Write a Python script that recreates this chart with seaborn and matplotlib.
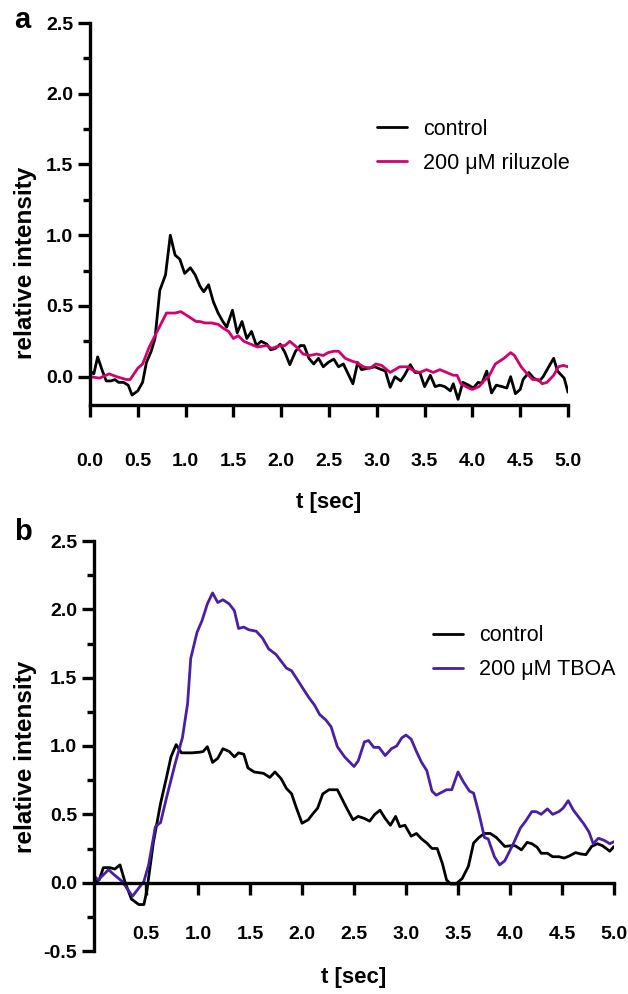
import numpy as np
import pandas as pd
import matplotlib
matplotlib.use("Agg")
import matplotlib.pyplot as plt
from matplotlib.ticker import MultipleLocator, FormatStrFormatter
import seaborn as sns

# panel a: control vs riluzole
t_ctrl_a = [0.00, 0.04, 0.08, 0.13, 0.17, 0.22, 0.26, 0.30, 0.35, 0.40, 0.44, 0.50,
            0.55, 0.59, 0.64, 0.68, 0.73, 0.79, 0.84, 0.89, 0.94, 0.99, 1.05, 1.10,
            1.15, 1.19, 1.24, 1.29, 1.34, 1.39, 1.43, 1.49, 1.54, 1.59, 1.64, 1.69,
            1.74, 1.79, 1.85, 1.89, 1.94, 1.99, 2.04, 2.09, 2.15, 2.20, 2.24, 2.29,
            2.34, 2.39, 2.44, 2.49, 2.55, 2.60, 2.65, 2.75, 2.80, 2.84, 2.91, 2.98,
            3.05, 3.09, 3.14, 3.19, 3.25, 3.29, 3.35, 3.40, 3.45, 3.50, 3.56, 3.61,
            3.66, 3.71, 3.77, 3.80, 3.85, 3.90, 3.96, 4.01, 4.06, 4.10, 4.15, 4.20,
            4.25, 4.31, 4.36, 4.40, 4.45, 4.50, 4.53, 4.59, 4.64, 4.70, 4.74, 4.79,
            4.85, 4.89, 4.96, 5.00]
ctrl_a = [0.04, 0.02, 0.14, 0.04, -0.03, -0.03, -0.02, -0.04, -0.04, -0.06, -0.13, -0.10,
          -0.04, 0.10, 0.18, 0.27, 0.61, 0.72, 1.00, 0.86, 0.83, 0.73, 0.77, 0.72,
          0.64, 0.60, 0.65, 0.53, 0.45, 0.39, 0.35, 0.47, 0.31, 0.39, 0.27, 0.32,
          0.22, 0.25, 0.23, 0.19, 0.20, 0.23, 0.17, 0.085, 0.18, 0.22, 0.22, 0.13,
          0.09, 0.13, 0.07, 0.10, 0.125, 0.07, 0.09, -0.05, 0.10, 0.05, 0.06, 0.07,
          0.05, 0.04, -0.075, 0.00, -0.03, 0.01, 0.085, 0.03, 0.03, -0.07, 0.01, -0.07,
          -0.06, -0.07, -0.10, -0.05, -0.16, -0.04, -0.06, -0.08, -0.04, -0.045, 0.04, -0.115,
          -0.06, -0.07, -0.08, 0.00, -0.12, -0.09, -0.02, 0.03, -0.01, -0.03, 0.00, 0.06,
          0.13, 0.04, -0.01, -0.11]

t_ril = [0.00, 0.10, 0.20, 0.28, 0.38, 0.42, 0.50, 0.55, 0.62, 0.71, 0.80, 0.89,
         0.95, 1.02, 1.11, 1.15, 1.20, 1.27, 1.34, 1.40, 1.45, 1.50, 1.55, 1.61,
         1.68, 1.75, 1.85, 1.90, 1.99, 2.04, 2.09, 2.16, 2.23, 2.30, 2.37, 2.44,
         2.49, 2.55, 2.60, 2.67, 2.74, 2.79, 2.86, 2.93, 2.99, 3.05, 3.14, 3.24,
         3.32, 3.39, 3.45, 3.52, 3.59, 3.66, 3.73, 3.80, 3.84, 3.88, 3.96, 4.00,
         4.07, 4.12, 4.17, 4.24, 4.33, 4.40, 4.44, 4.51, 4.56, 4.63, 4.69, 4.73,
         4.78, 4.85, 4.90, 4.95, 5.00]
riluzole = [0.00, -0.01, 0.02, 0.00, -0.02, -0.02, 0.06, 0.09, 0.21, 0.33, 0.45, 0.45,
            0.46, 0.43, 0.39, 0.39, 0.38, 0.38, 0.37, 0.34, 0.32, 0.27, 0.29, 0.25,
            0.23, 0.21, 0.22, 0.20, 0.22, 0.22, 0.25, 0.21, 0.16, 0.15, 0.16, 0.15,
            0.17, 0.18, 0.18, 0.13, 0.11, 0.10, 0.07, 0.06, 0.09, 0.08, 0.03, 0.07,
            0.07, 0.04, 0.03, 0.05, 0.03, 0.05, 0.03, 0.01, 0.01, -0.05, -0.08, -0.09,
            -0.07, -0.03, 0.00, 0.09, 0.13, 0.17, 0.15, 0.07, 0.03, -0.02, -0.02, -0.05,
            -0.04, 0.01, 0.07, 0.08, 0.07]

# panel b: control vs TBOA
t_ctrl_b = [0.00, 0.05, 0.09, 0.15, 0.20, 0.25, 0.30, 0.36, 0.43, 0.48, 0.51, 0.57,
            0.64, 0.70, 0.74, 0.79, 0.84, 0.94, 1.02, 1.05, 1.09, 1.14, 1.19, 1.24,
            1.30, 1.35, 1.39, 1.44, 1.48, 1.54, 1.63, 1.69, 1.74, 1.80, 1.85, 1.90,
            1.94, 2.00, 2.06, 2.10, 2.15, 2.20, 2.26, 2.34, 2.43, 2.49, 2.54, 2.60,
            2.65, 2.70, 2.75, 2.80, 2.85, 2.90, 2.94, 2.99, 3.05, 3.10, 3.15, 3.20,
            3.25, 3.30, 3.35, 3.39, 3.43, 3.48, 3.54, 3.60, 3.65, 3.70, 3.755, 3.81,
            3.87, 3.95, 4.00, 4.05, 4.11, 4.165, 4.21, 4.26, 4.30, 4.36, 4.41, 4.47,
            4.52, 4.57, 4.63, 4.68, 4.73, 4.785, 4.84, 4.89, 4.96, 5.00]
ctrl_b = [0.00, 0.02, 0.11, 0.11, 0.10, 0.13, 0.00, -0.12, -0.16, -0.16, -0.05, 0.29,
          0.58, 0.78, 0.92, 1.01, 0.95, 0.95, 0.955, 0.96, 0.995, 0.88, 0.91, 0.98,
          0.96, 0.92, 0.95, 0.94, 0.84, 0.81, 0.80, 0.77, 0.81, 0.76, 0.69, 0.65,
          0.56, 0.435, 0.46, 0.50, 0.545, 0.65, 0.68, 0.68, 0.545, 0.46, 0.485, 0.47,
          0.45, 0.50, 0.53, 0.47, 0.42, 0.485, 0.41, 0.42, 0.34, 0.36, 0.32, 0.29,
          0.25, 0.25, 0.14, 0.02, -0.01, -0.01, 0.03, 0.12, 0.29, 0.33, 0.36, 0.36,
          0.33, 0.265, 0.27, 0.27, 0.24, 0.295, 0.285, 0.26, 0.215, 0.215, 0.19, 0.19,
          0.18, 0.195, 0.22, 0.21, 0.205, 0.265, 0.285, 0.27, 0.23, 0.265]

t_tboa = [0.00, 0.04, 0.14, 0.19, 0.27, 0.37, 0.48, 0.525, 0.59, 0.64, 0.70, 0.78,
          0.85, 0.90, 0.93, 0.99, 1.04, 1.09, 1.14, 1.19, 1.24, 1.30, 1.35, 1.39,
          1.44, 1.49, 1.56, 1.62, 1.68, 1.75, 1.80, 1.85, 1.90, 1.96, 2.01, 2.07,
          2.12, 2.17, 2.23, 2.28, 2.34, 2.41, 2.50, 2.54, 2.60, 2.64, 2.69, 2.74,
          2.80, 2.86, 2.91, 2.96, 3.00, 3.05, 3.10, 3.15, 3.20, 3.25, 3.29, 3.34,
          3.39, 3.44, 3.50, 3.55, 3.61, 3.65, 3.70, 3.755, 3.79, 3.85, 3.90, 3.95,
          4.035, 4.10, 4.15, 4.21, 4.25, 4.30, 4.36, 4.41, 4.47, 4.51, 4.56, 4.61,
          4.66, 4.71, 4.76, 4.80, 4.85, 4.905, 4.96, 5.00]
tboa = [0.05, 0.02, 0.095, 0.06, 0.01, -0.10, 0.01, 0.13, 0.41, 0.44, 0.63, 0.87,
        1.06, 1.31, 1.64, 1.83, 1.92, 2.04, 2.12, 2.05, 2.07, 2.04, 1.99, 1.86,
        1.87, 1.85, 1.84, 1.79, 1.71, 1.67, 1.62, 1.57, 1.55, 1.48, 1.42, 1.35,
        1.30, 1.23, 1.19, 1.14, 0.995, 0.92, 0.85, 0.89, 1.03, 1.04, 0.99, 0.99,
        0.93, 0.98, 1.00, 1.06, 1.08, 1.05, 0.96, 0.88, 0.82, 0.67, 0.64, 0.66,
        0.68, 0.68, 0.81, 0.74, 0.67, 0.655, 0.51, 0.33, 0.32, 0.19, 0.13, 0.16,
        0.29, 0.40, 0.45, 0.52, 0.52, 0.50, 0.54, 0.50, 0.52, 0.545, 0.60, 0.53,
        0.48, 0.43, 0.37, 0.285, 0.325, 0.31, 0.285, 0.30]

BLACK = "#000000"
MAGENTA = "#d4006f"
PURPLE = "#4a1fa8"

sns.set_style("ticks")
plt.rcParams["font.family"] = ["Liberation Sans", "DejaVu Sans"]
plt.rcParams["text.color"] = "black"
plt.rcParams["axes.labelcolor"] = "black"
plt.rcParams["xtick.color"] = "black"
plt.rcParams["ytick.color"] = "black"

fig = plt.figure(figsize=(6.28, 9.94), dpi=100)
ax_a = fig.add_axes([90 / 628, 1 - 405 / 994, 478 / 628, 382 / 994])
ax_b = fig.add_axes([94 / 628, 1 - 951 / 994, 520 / 628, 410 / 994])

sns.lineplot(x=t_ctrl_a, y=ctrl_a, ax=ax_a, color=BLACK, lw=2.0, label="control", sort=False)
sns.lineplot(x=t_ril, y=riluzole, ax=ax_a, color=MAGENTA, lw=2.0, label="200 μM riluzole", sort=False)
sns.lineplot(x=t_ctrl_b, y=ctrl_b, ax=ax_b, color=BLACK, lw=2.0, label="control", sort=False)
sns.lineplot(x=t_tboa, y=tboa, ax=ax_b, color=PURPLE, lw=2.0, label="200 μM TBOA", sort=False)

for ax in (ax_a, ax_b):
    sns.despine(ax=ax)
    for s in ("left", "bottom"):
        ax.spines[s].set_linewidth(2.4)
        ax.spines[s].set_color("black")
    ax.set_xlim(0, 5.0)
    ax.yaxis.set_major_locator(MultipleLocator(0.5))
    ax.yaxis.set_minor_locator(MultipleLocator(0.25))
    ax.tick_params(which="major", length=8.5, width=2.4, labelsize=14,
                   color="black", labelcolor="black")
    ax.tick_params(which="minor", length=5, width=2.4, color="black")
    ax.yaxis.set_major_formatter(FormatStrFormatter("%.1f"))
    ax.xaxis.set_major_formatter(FormatStrFormatter("%.1f"))
    ax.set_ylabel("relative intensity", fontsize=17.5, fontweight="bold", color="black")
    ax.set_xlabel("t [sec]", fontsize=16, fontweight="bold", color="black")

# a
ax_a.set_ylim(-0.2, 2.5)
ax_a.set_xticks(np.arange(0, 5.01, 0.5))
ax_a.tick_params(axis="x", pad=26)
ax_a.xaxis.set_label_coords(0.5, -0.228)
ax_a.yaxis.set_label_coords(-0.111, 0.372)
leg_a = ax_a.legend(loc="center left", bbox_to_anchor=(0.60, 0.677), frameon=False,
                    fontsize=15.5, handlelength=1.4, handletextpad=0.75, labelspacing=0.6,
                    borderpad=0, borderaxespad=0, labelcolor="black")

# b
ax_b.set_ylim(-0.5, 2.5)
ax_b.spines["bottom"].set_position(("data", 0))
ax_b.set_xticks(np.arange(0.5, 5.01, 0.5))
ax_b.tick_params(axis="x", pad=23)
ax_b.xaxis.set_label_coords(0.5, -0.04)
ax_b.yaxis.set_label_coords(-0.11, 0.473)
leg_b = ax_b.legend(loc="center left", bbox_to_anchor=(0.652, 0.727), frameon=False,
                    fontsize=15.5, handlelength=1.4, handletextpad=0.75, labelspacing=0.6,
                    borderpad=0, borderaxespad=0, labelcolor="black")

for ax in (ax_a, ax_b):
    for lab in ax.get_xticklabels() + ax.get_yticklabels():
        lab.set_fontweight("bold")

fig.text(14 / 628, 1 - 20 / 994, "a", fontsize=21, fontweight="bold", ha="left", va="center")
fig.text(14 / 628, 1 - 532 / 994, "b", fontsize=21, fontweight="bold", ha="left", va="center")

fig.savefig("out.png", dpi=100)
